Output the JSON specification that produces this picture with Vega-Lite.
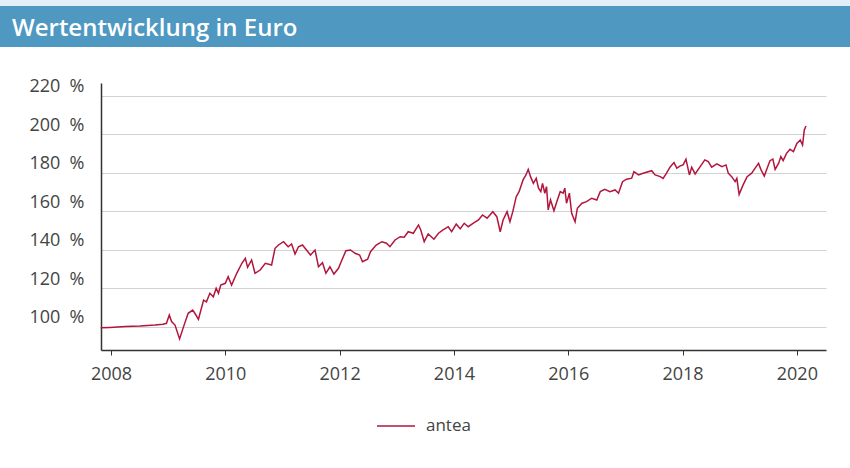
{
  "$schema": "https://vega.github.io/schema/vega-lite/v6.json",
  "padding": {"left": 0, "top": 0, "right": 0, "bottom": 24},
  "background": "white",
  "spacing": 30,
  "config": {"view": {"stroke": null}, "font": "Open Sans"},
  "vconcat": [
    {
      "spacing": 0,
      "vconcat": [
        {
          "width": 749,
          "height": 6,
          "data": {"values": [{"teil": "streifen"}]},
          "mark": {"type": "rect", "color": "#e3eff8"},
          "encoding": {
            "x": {"datum": 0, "type": "quantitative", "scale": {"domain": [0, 1], "range": [-101, 749]}, "axis": null},
            "x2": {"datum": 1}
          }
        },
        {
          "width": 749,
          "height": 41,
          "data": {"values": [{"teil": "banner"}]},
          "mark": {"type": "rect", "color": "#4e98c2"},
          "encoding": {
            "x": {"datum": 0, "type": "quantitative", "scale": {"domain": [0, 1], "range": [-101, 749]}, "axis": null},
            "x2": {"datum": 1}
          },
          "title": {
            "text": "Wertentwicklung in Euro",
            "anchor": "start",
            "frame": "group",
            "orient": "top",
            "offset": -54,
            "dx": -89,
            "baseline": "alphabetic",
            "color": "white",
            "font": "Open Sans",
            "fontSize": 24,
            "fontWeight": 600
          }
        }
      ]
    },
    {
      "width": 725,
      "height": 267,
      "data": {"values": [
        {"jahr": 2007.82, "wert": 99.6}, {"jahr": 2007.98, "wert": 99.8}, {"jahr": 2008.25, "wert": 100.2}, {"jahr": 2008.51, "wert": 100.5},
        {"jahr": 2008.77, "wert": 101.0}, {"jahr": 2008.91, "wert": 101.4}, {"jahr": 2008.97, "wert": 101.9}, {"jahr": 2009.02, "wert": 106.2},
        {"jahr": 2009.06, "wert": 102.8}, {"jahr": 2009.12, "wert": 101.0}, {"jahr": 2009.20, "wert": 93.8}, {"jahr": 2009.27, "wert": 100.2},
        {"jahr": 2009.35, "wert": 107.1}, {"jahr": 2009.43, "wert": 108.8}, {"jahr": 2009.47, "wert": 107.0}, {"jahr": 2009.53, "wert": 104.0},
        {"jahr": 2009.62, "wert": 114.0}, {"jahr": 2009.67, "wert": 113.1}, {"jahr": 2009.73, "wert": 117.5}, {"jahr": 2009.79, "wert": 115.7},
        {"jahr": 2009.84, "wert": 120.1}, {"jahr": 2009.88, "wert": 117.5}, {"jahr": 2009.92, "wert": 121.8}, {"jahr": 2010.00, "wert": 122.7},
        {"jahr": 2010.05, "wert": 126.1}, {"jahr": 2010.11, "wert": 121.8}, {"jahr": 2010.20, "wert": 127.9}, {"jahr": 2010.29, "wert": 133.1},
        {"jahr": 2010.35, "wert": 135.7}, {"jahr": 2010.39, "wert": 131.0}, {"jahr": 2010.46, "wert": 134.8}, {"jahr": 2010.52, "wert": 127.9},
        {"jahr": 2010.61, "wert": 129.6}, {"jahr": 2010.70, "wert": 133.1}, {"jahr": 2010.81, "wert": 132.2}, {"jahr": 2010.87, "wert": 140.9},
        {"jahr": 2010.93, "wert": 142.6}, {"jahr": 2011.02, "wert": 144.3}, {"jahr": 2011.10, "wert": 141.7}, {"jahr": 2011.16, "wert": 143.1},
        {"jahr": 2011.22, "wert": 137.9}, {"jahr": 2011.28, "wert": 141.7}, {"jahr": 2011.35, "wert": 142.6}, {"jahr": 2011.42, "wert": 140.0},
        {"jahr": 2011.49, "wert": 137.4}, {"jahr": 2011.57, "wert": 140.0}, {"jahr": 2011.63, "wert": 131.3}, {"jahr": 2011.70, "wert": 133.4},
        {"jahr": 2011.76, "wert": 127.9}, {"jahr": 2011.83, "wert": 131.3}, {"jahr": 2011.90, "wert": 127.5}, {"jahr": 2011.98, "wert": 130.5},
        {"jahr": 2012.04, "wert": 134.8}, {"jahr": 2012.11, "wert": 139.6}, {"jahr": 2012.19, "wert": 140.0}, {"jahr": 2012.27, "wert": 138.3},
        {"jahr": 2012.35, "wert": 137.4}, {"jahr": 2012.40, "wert": 133.9}, {"jahr": 2012.49, "wert": 135.2}, {"jahr": 2012.54, "wert": 139.1},
        {"jahr": 2012.64, "wert": 142.6}, {"jahr": 2012.74, "wert": 144.3}, {"jahr": 2012.82, "wert": 143.5}, {"jahr": 2012.88, "wert": 141.7},
        {"jahr": 2012.97, "wert": 145.2}, {"jahr": 2013.06, "wert": 146.9}, {"jahr": 2013.13, "wert": 146.6}, {"jahr": 2013.20, "wert": 149.5},
        {"jahr": 2013.29, "wert": 148.7}, {"jahr": 2013.38, "wert": 153.0}, {"jahr": 2013.42, "wert": 150.4}, {"jahr": 2013.48, "wert": 144.3},
        {"jahr": 2013.55, "wert": 148.3}, {"jahr": 2013.65, "wert": 145.6}, {"jahr": 2013.73, "wert": 148.7}, {"jahr": 2013.81, "wert": 150.4},
        {"jahr": 2013.90, "wert": 152.1}, {"jahr": 2013.96, "wert": 149.5}, {"jahr": 2014.04, "wert": 153.5}, {"jahr": 2014.11, "wert": 151.0},
        {"jahr": 2014.18, "wert": 153.9}, {"jahr": 2014.25, "wert": 152.1}, {"jahr": 2014.34, "wert": 153.9}, {"jahr": 2014.43, "wert": 155.6},
        {"jahr": 2014.50, "wert": 158.2}, {"jahr": 2014.58, "wert": 156.5}, {"jahr": 2014.68, "wert": 159.9}, {"jahr": 2014.75, "wert": 157.3},
        {"jahr": 2014.81, "wert": 149.5}, {"jahr": 2014.86, "wert": 155.6}, {"jahr": 2014.93, "wert": 159.9}, {"jahr": 2014.98, "wert": 154.7},
        {"jahr": 2015.03, "wert": 159.9}, {"jahr": 2015.09, "wert": 167.7}, {"jahr": 2015.14, "wert": 170.3}, {"jahr": 2015.21, "wert": 176.4},
        {"jahr": 2015.26, "wert": 179.0}, {"jahr": 2015.30, "wert": 181.9}, {"jahr": 2015.34, "wert": 178.1}, {"jahr": 2015.39, "wert": 174.6},
        {"jahr": 2015.44, "wert": 177.2}, {"jahr": 2015.48, "wert": 172.1}, {"jahr": 2015.52, "wert": 170.3}, {"jahr": 2015.55, "wert": 174.6},
        {"jahr": 2015.59, "wert": 169.5}, {"jahr": 2015.62, "wert": 172.9}, {"jahr": 2015.65, "wert": 160.8}, {"jahr": 2015.69, "wert": 166.0},
        {"jahr": 2015.75, "wert": 160.4}, {"jahr": 2015.81, "wert": 166.0}, {"jahr": 2015.86, "wert": 170.3}, {"jahr": 2015.91, "wert": 169.5},
        {"jahr": 2015.94, "wert": 172.1}, {"jahr": 2015.97, "wert": 164.3}, {"jahr": 2016.02, "wert": 169.5}, {"jahr": 2016.06, "wert": 159.1},
        {"jahr": 2016.12, "wert": 154.7}, {"jahr": 2016.16, "wert": 161.7}, {"jahr": 2016.24, "wert": 164.3}, {"jahr": 2016.32, "wert": 165.1},
        {"jahr": 2016.41, "wert": 166.9}, {"jahr": 2016.50, "wert": 166.0}, {"jahr": 2016.56, "wert": 170.3}, {"jahr": 2016.64, "wert": 171.5},
        {"jahr": 2016.73, "wert": 170.3}, {"jahr": 2016.82, "wert": 171.2}, {"jahr": 2016.88, "wert": 169.5}, {"jahr": 2016.95, "wert": 175.5},
        {"jahr": 2017.02, "wert": 176.8}, {"jahr": 2017.11, "wert": 177.3}, {"jahr": 2017.15, "wert": 180.7}, {"jahr": 2017.23, "wert": 179.0},
        {"jahr": 2017.31, "wert": 179.9}, {"jahr": 2017.46, "wert": 181.2}, {"jahr": 2017.52, "wert": 179.0}, {"jahr": 2017.61, "wert": 178.1},
        {"jahr": 2017.66, "wert": 177.2}, {"jahr": 2017.72, "wert": 179.9}, {"jahr": 2017.78, "wert": 183.0}, {"jahr": 2017.85, "wert": 185.4},
        {"jahr": 2017.90, "wert": 182.5}, {"jahr": 2017.96, "wert": 183.7}, {"jahr": 2018.01, "wert": 184.2}, {"jahr": 2018.06, "wert": 187.2},
        {"jahr": 2018.12, "wert": 179.0}, {"jahr": 2018.16, "wert": 183.0}, {"jahr": 2018.22, "wert": 179.5}, {"jahr": 2018.29, "wert": 182.5},
        {"jahr": 2018.39, "wert": 186.8}, {"jahr": 2018.45, "wert": 185.9}, {"jahr": 2018.51, "wert": 183.0}, {"jahr": 2018.60, "wert": 184.7},
        {"jahr": 2018.69, "wert": 183.3}, {"jahr": 2018.76, "wert": 184.2}, {"jahr": 2018.80, "wert": 179.9}, {"jahr": 2018.86, "wert": 178.1},
        {"jahr": 2018.92, "wert": 175.5}, {"jahr": 2018.95, "wert": 177.2}, {"jahr": 2018.99, "wert": 168.9}, {"jahr": 2019.06, "wert": 173.8},
        {"jahr": 2019.13, "wert": 178.1}, {"jahr": 2019.21, "wert": 179.9}, {"jahr": 2019.27, "wert": 182.5}, {"jahr": 2019.33, "wert": 185.0},
        {"jahr": 2019.37, "wert": 181.9}, {"jahr": 2019.43, "wert": 178.4}, {"jahr": 2019.48, "wert": 182.5}, {"jahr": 2019.53, "wert": 186.4},
        {"jahr": 2019.58, "wert": 187.2}, {"jahr": 2019.62, "wert": 181.9}, {"jahr": 2019.68, "wert": 185.0}, {"jahr": 2019.72, "wert": 188.5},
        {"jahr": 2019.76, "wert": 186.4}, {"jahr": 2019.82, "wert": 190.2}, {"jahr": 2019.88, "wert": 192.3}, {"jahr": 2019.94, "wert": 191.1},
        {"jahr": 2020.00, "wert": 195.4}, {"jahr": 2020.06, "wert": 197.1}, {"jahr": 2020.10, "wert": 194.5}, {"jahr": 2020.13, "wert": 202.3},
        {"jahr": 2020.16, "wert": 204.4}
      ]},
      "mark": {"type": "line", "strokeWidth": 1.5, "interpolate": "linear"},
      "encoding": {
        "x": {
          "field": "jahr", "type": "quantitative",
          "scale": {"domain": [2007.825, 2020.51], "nice": false, "zero": false},
          "axis": {
            "title": null, "values": [2008, 2010, 2012, 2014, 2016, 2018, 2020], "format": "d",
            "grid": false, "domainColor": "#333333", "domainWidth": 1.5,
            "tickColor": "#333333", "tickSize": 5, "tickWidth": 1,
            "labelFontSize": 18, "labelColor": "#444444", "labelFont": "Open Sans", "labelPadding": 10
          }
        },
        "y": {
          "field": "wert", "type": "quantitative",
          "scale": {"domain": [88.05, 226.75], "nice": false, "zero": false},
          "axis": {
            "title": null, "values": [100, 120, 140, 160, 180, 200, 220],
            "labelExpr": "datum.value + '\u00a0\u00a0%'",
            "ticks": false, "tickSize": 0,
            "domainColor": "#333333", "domainWidth": 1.5,
            "grid": true, "gridColor": "#d2d2d2", "gridWidth": 1,
            "labelFontSize": 18, "labelColor": "#444444", "labelFont": "Open Sans",
            "labelPadding": 17, "labelBaseline": "alphabetic", "labelOffset": -4
          }
        },
        "color": {
          "datum": "antea",
          "type": "nominal",
          "scale": {"range": ["#b2163d"]},
          "legend": {
            "title": null, "orient": "none", "legendX": 275, "legendY": 406,
            "symbolType": "stroke", "symbolSize": 1444, "symbolStrokeWidth": 1.5,
            "labelFontSize": 17, "labelColor": "#444444", "labelFont": "Open Sans", "labelOffset": 10
          }
        }
      }
    }
  ]
}
